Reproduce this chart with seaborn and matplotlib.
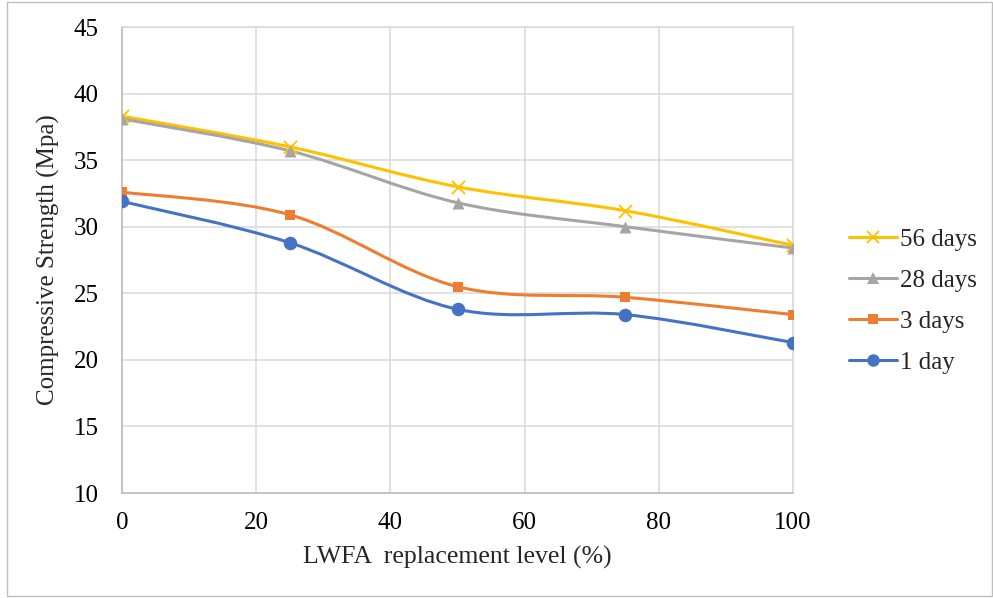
"""
Compressive strength vs LWFA replacement level, smoothed Excel-style lines.
"""

import matplotlib.pyplot as plt
import seaborn as sns
from matplotlib.lines import Line2D
from matplotlib.patches import PathPatch, Rectangle
from matplotlib.path import Path

# Data
replacement = [0, 25, 50, 75, 100]
days_56 = [38.3, 36.0, 33.0, 31.2, 28.6]
days_28 = [38.1, 35.7, 31.8, 30.0, 28.4]
days_3 = [32.6, 30.9, 25.5, 24.7, 23.4]
days_1 = [31.9, 28.8, 23.8, 23.4, 21.3]
labels = ["56 days", "28 days", "3 days", "1 day"]

sns.set_theme(style="white")
plt.rcParams["font.family"] = ["Liberation Serif", "DejaVu Serif"]


def smooth_path(xs, ys):
    # Excel style smoothing: cubic Bezier segments with Catmull-Rom control points
    verts = [(xs[0], ys[0])]
    codes = [Path.MOVETO]
    n = len(xs)
    for i in range(n - 1):
        i0 = max(i - 1, 0)
        i3 = min(i + 2, n - 1)
        c1 = (xs[i] + (xs[i + 1] - xs[i0]) / 6, ys[i] + (ys[i + 1] - ys[i0]) / 6)
        c2 = (xs[i + 1] - (xs[i3] - xs[i]) / 6, ys[i + 1] - (ys[i3] - ys[i]) / 6)
        verts += [c1, c2, (xs[i + 1], ys[i + 1])]
        codes += [Path.CURVE4] * 3
    return Path(verts, codes)


fig = plt.figure(figsize=(9.93, 5.98), dpi=100)
ax = fig.add_axes([122 / 993, 1 - 493 / 598, 671 / 993, 466 / 598])

series = [days_56, days_28, days_3, days_1]
colors = ["#FFC000", "#A5A5A5", "#ED7D31", "#4472C4"]
markers = ["x", "^", "s", "o"]
sizes = [90, 75, 60, 95]

handles = []
for vals, col, mk, sz, lab in zip(series, colors, markers, sizes, labels):
    ax.add_patch(PathPatch(smooth_path(replacement, vals), facecolor="none",
                           edgecolor=col, lw=2.2, capstyle="round", zorder=3))
    if mk == "x":
        sns.scatterplot(x=replacement, y=vals, ax=ax, marker=mk, s=sz,
                        color=col, linewidth=1.3, zorder=4)
    else:
        sns.scatterplot(x=replacement, y=vals, ax=ax, marker=mk, s=sz,
                        color=col, edgecolor=col, linewidth=0, zorder=4)
    handles.append(Line2D([], [], color=col, lw=2.2, marker=mk,
                          markersize=9 if mk != "s" else 7.5,
                          markeredgewidth=1.3 if mk == "x" else 0,
                          markerfacecolor=col, markeredgecolor=col, label=lab))

ax.set_xlim(0, 100)
ax.set_ylim(10, 45)
ax.set_xticks(range(0, 101, 20))
ax.set_yticks(range(10, 46, 5))
ax.grid(True, color="#D9D9D9", lw=1.1)
ax.set_axisbelow(True)
ax.tick_params(axis="both", length=0, labelsize=18, colors="black")
ax.tick_params(axis="x", pad=14)
ax.tick_params(axis="y", pad=17)
for side in ["left", "bottom"]:
    ax.spines[side].set_color("#BFBFBF")
    ax.spines[side].set_linewidth(1.3)
for side in ["top", "right"]:
    ax.spines[side].set_color("#D9D9D9")
    ax.spines[side].set_linewidth(1.1)

ax.set_xlabel("LWFA  replacement level (%)", fontsize=18.5, va="center")
ax.set_ylabel("Compressive Strength (Mpa)", fontsize=18, va="center")
ax.xaxis.set_label_coords(0.5, (493 - 557) / 466)
ax.yaxis.set_label_coords((48 - 122) / 671, 0.5)

fig.legend(handles=handles, loc="center left", bbox_to_anchor=(849 / 993, 1 - 301 / 598),
           frameon=False, fontsize=18, handlelength=1.9, handletextpad=0.12,
           labelspacing=0.74, borderpad=0, borderaxespad=0)

fig.patches.append(Rectangle((7 / 993, 2 / 598), 985 / 993, 594 / 598,
                             transform=fig.transFigure, fill=False,
                             edgecolor="#BFBFBF", lw=1.0))

plt.savefig("out.png", dpi=100)
